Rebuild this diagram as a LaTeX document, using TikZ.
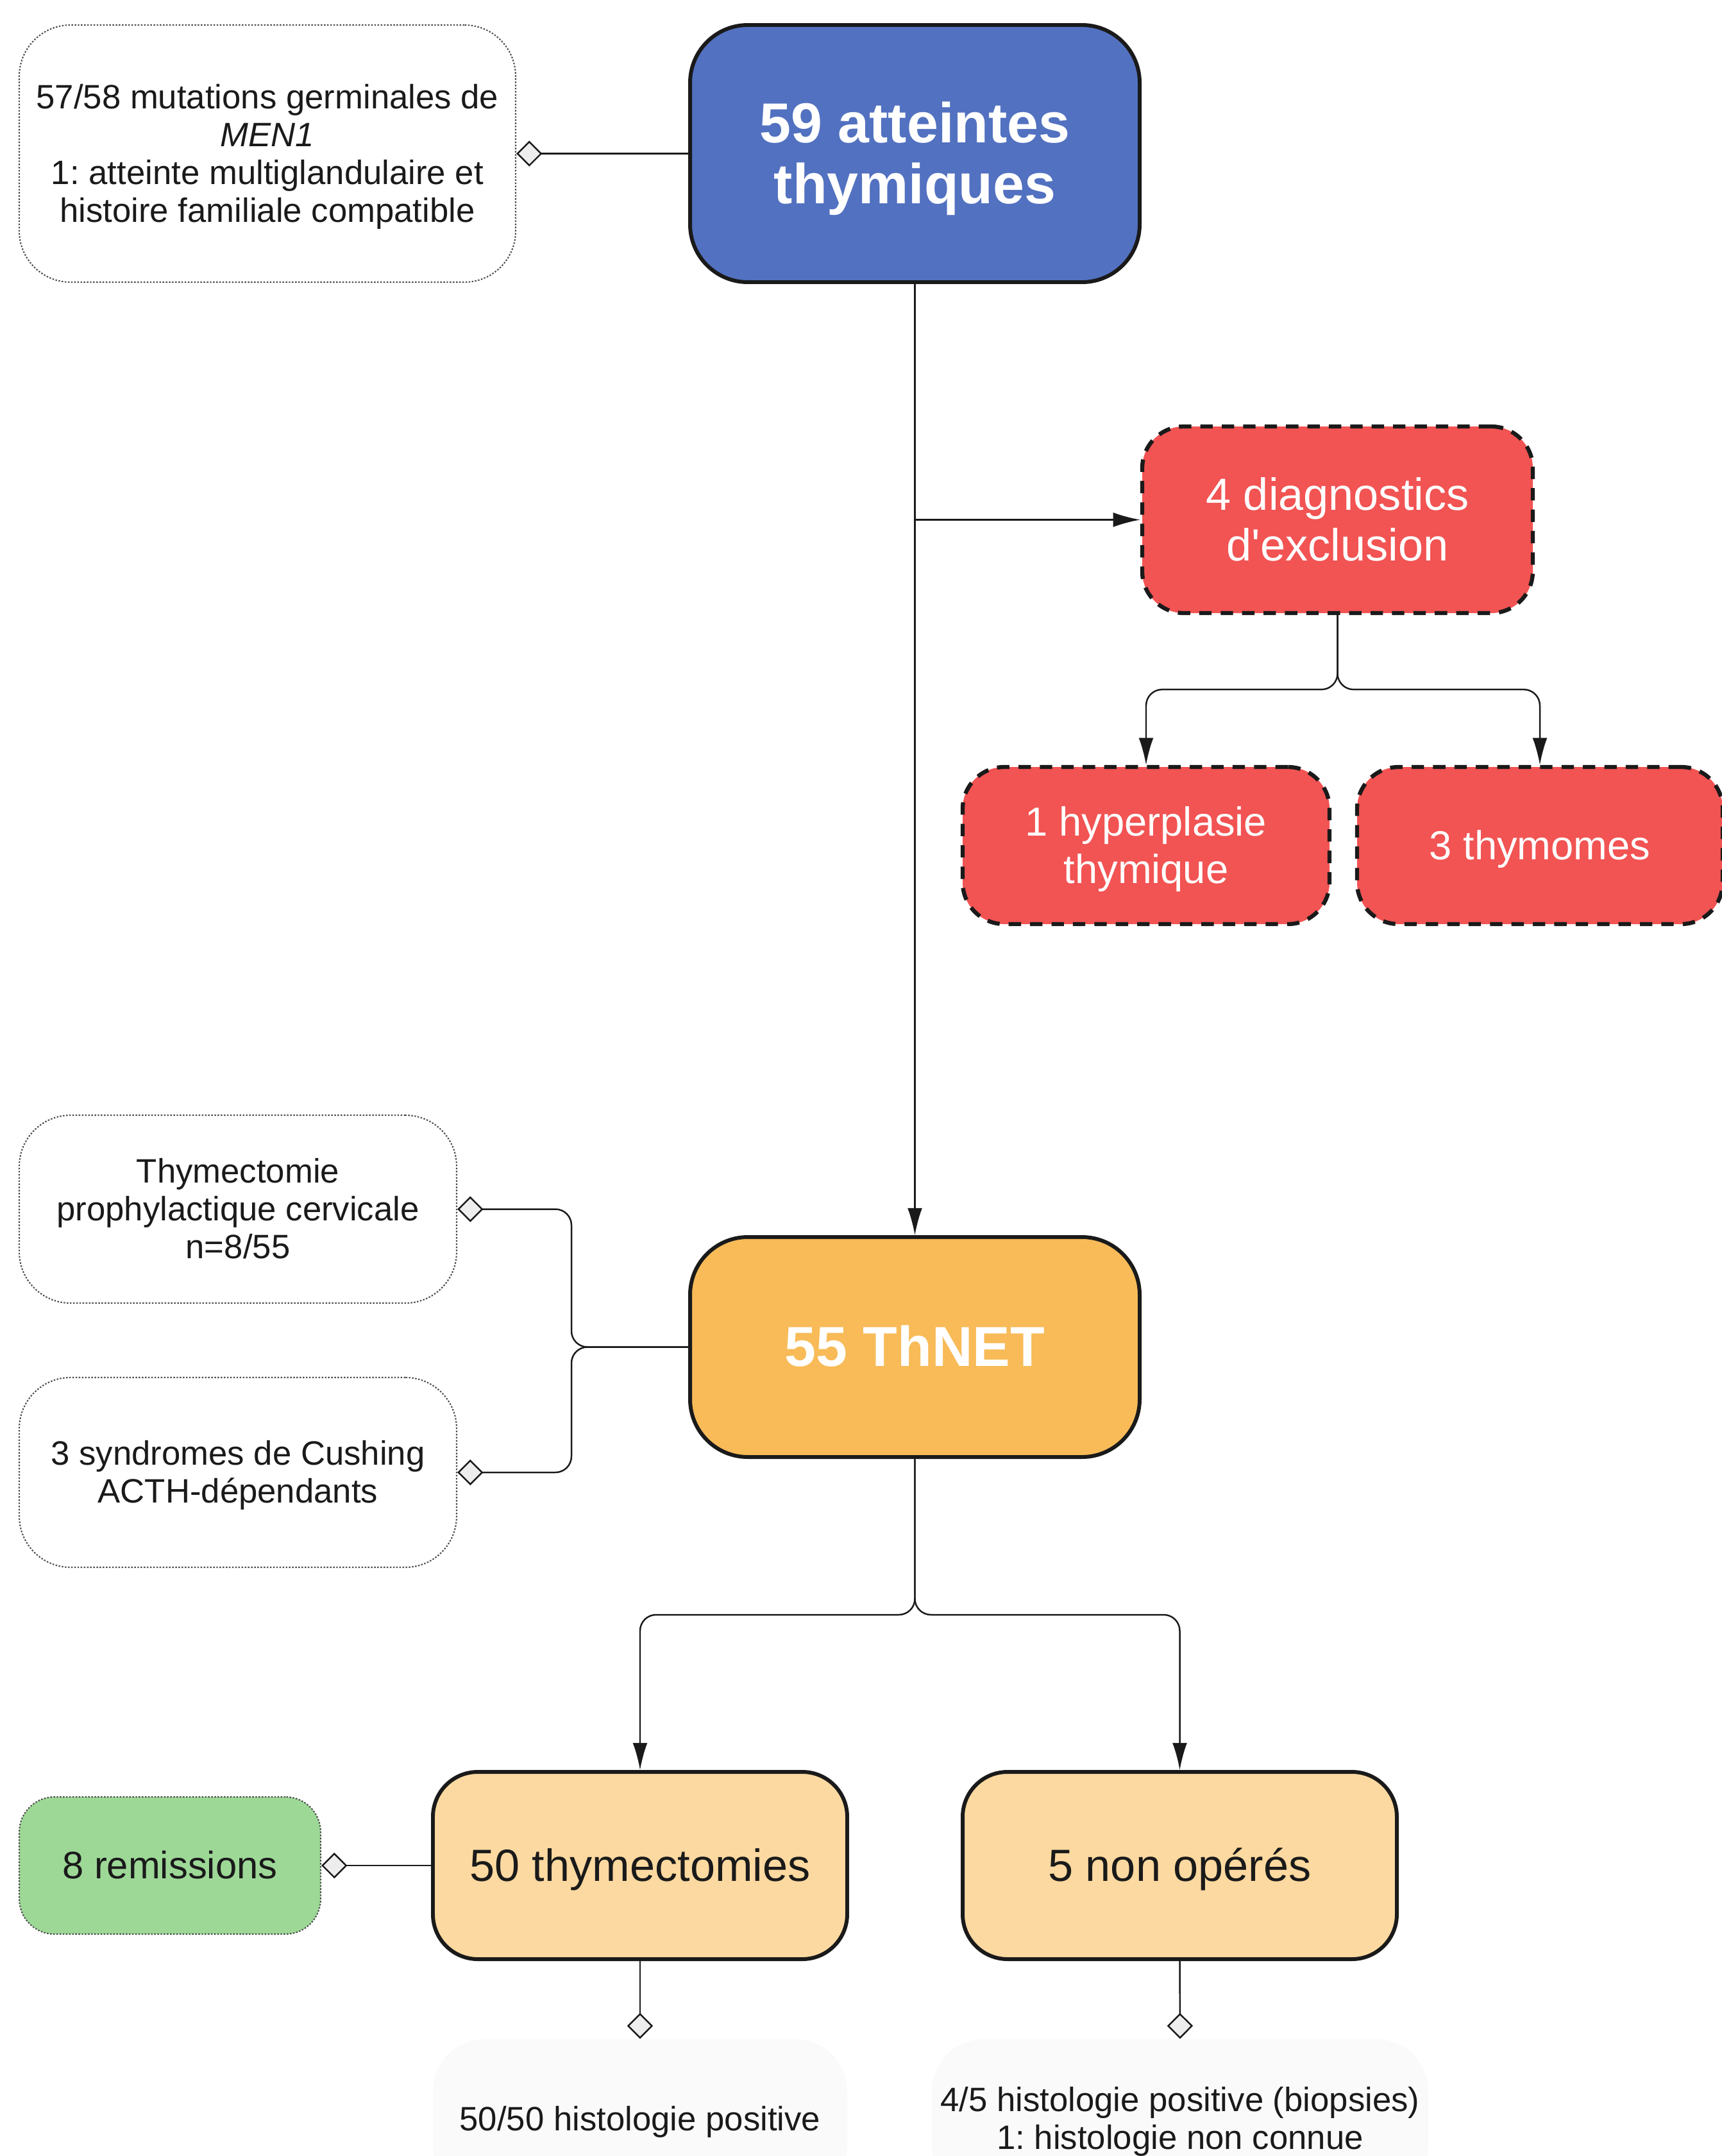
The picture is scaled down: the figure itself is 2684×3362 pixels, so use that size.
\documentclass[tikz,border=0pt]{standalone}
\usepackage{fontspec}
\setmainfont{Liberation Sans}
\frenchspacing
\usetikzlibrary{arrows.meta}
\definecolor{bleu}{HTML}{5271C0}
\definecolor{rouge}{HTML}{F25353}
\definecolor{orangefonce}{HTML}{F8BB58}
\definecolor{orangeclair}{HTML}{FCD9A0}
\definecolor{vert}{HTML}{9DD897}
\definecolor{encre}{HTML}{1A1A1A}
\newcommand\montant{\rule[-0.2535em]{0pt}{1.2em}}
\tikzset{
  texte/.style={align=center,inner sep=0pt,execute at begin node=\montant,execute at end node=\montant},
  boite/.style={texte,rectangle,rounded corners=9mm,draw=encre,line width=1.7pt},
  note/.style={texte,rectangle,rounded corners=8mm,draw=black!70,line width=0.6pt,dash pattern=on 0.7pt off 0.7pt,fill=white,text=encre,font=\fontsize{15}{16.8}\selectfont},
  exclu/.style={boite,fill=rouge,line width=1.8pt,dash pattern=on 5.5pt off 4pt,rounded corners=6.5mm,text=white,font=\fontsize{18}{21}\selectfont},
  suite/.style={boite,fill=orangeclair,rounded corners=7mm,text=encre,font=\fontsize{20}{24}\selectfont},
  histo/.style={texte,rectangle,rounded corners=8mm,fill=black!2,text=encre,font=\fontsize{15}{16.8}\selectfont},
  fleche/.style={-{Latex[length=12pt,width=6.5pt]},line width=0.7pt,draw=encre},
  losange/.style={-{Diamond[length=11.5pt,width=11.5pt,fill=black!7]},line width=0.7pt,draw=encre},
}
\begin{document}
\begin{tikzpicture}[x=0.1mm,y=-0.1mm]
\useasboundingbox (0,0) rectangle (2684,3362);
\node[note,minimum width=77.4mm,minimum height=40.1mm](men)at(417,239.5){\montant 57/58 mutations germinales de\\\textit{MEN1}\\1: atteinte multiglandulaire et\\histoire familiale compatible};
\node[boite,fill=bleu,text=white,minimum width=70.1mm,minimum height=40.1mm,font=\bfseries\fontsize{25}{27}\selectfont](atteintes)at(1426.5,239.5){\montant 59 atteintes\\thymiques};
\node[exclu,minimum width=60.9mm,minimum height=29.1mm,font=\fontsize{20}{22.5}\selectfont](diag)at(2085.5,810.5){\montant 4 diagnostics\\d\textquotesingle exclusion};
\node[exclu,minimum width=57.2mm,minimum height=24.5mm](hyper)at(1787,1318.5){\montant 1 hyperplasie\\thymique};
\node[exclu,minimum width=57mm,minimum height=24.5mm](thymomes)at(2401,1318.5){3 thymomes};
\node[boite,fill=orangefonce,text=white,minimum width=70.1mm,minimum height=34.3mm,font=\bfseries\fontsize{25}{27}\selectfont](thnet)at(1426.5,2100.5){55 ThNET};
\node[note,minimum width=68.2mm,minimum height=29.3mm](prophy)at(371,1885.5){\montant Thymectomie\\prophylactique cervicale\\n=8/55};
\node[note,minimum width=68.2mm,minimum height=29.6mm](cushing)at(371,2296){\montant 3 syndromes de Cushing\\ACTH-dépendants};
\node[suite,minimum width=64.6mm,minimum height=29.2mm](operes)at(998,2909){50 thymectomies};
\node[suite,minimum width=67.7mm,minimum height=29.2mm](nonoperes)at(1839.5,2909){5 non opérés};
\node[note,fill=vert,rounded corners=5.5mm,minimum width=47mm,minimum height=21.4mm,font=\fontsize{17}{20}\selectfont](remission)at(265,2909){8 remissions};
\node[histo,minimum width=64.6mm,minimum height=24.8mm](histoA)at(998,3304){50/50 histologie positive};
\node[histo,minimum width=77.4mm,minimum height=24.8mm](histoB)at(1840,3304){\montant 4/5 histologie positive (biopsies)\\1: histologie non connue};
\draw[losange](atteintes.west)--(men.east);
\draw[fleche](atteintes.south)--(thnet.north);
\draw[fleche](atteintes.south|-diag.west)--(diag.west);
\draw[fleche,rounded corners=2.5mm](diag.south)--++(0,116)-|(hyper.north);
\draw[fleche,rounded corners=2.5mm](diag.south)--++(0,116)-|(thymomes.north);
\draw[losange,rounded corners=2.5mm](thnet.west)--++(-182,0)|-(prophy.east);
\draw[losange,rounded corners=2.5mm](thnet.west)--++(-182,0)|-(cushing.east);
\draw[fleche,rounded corners=2.5mm](thnet.south)--++(0,243)-|(operes.north);
\draw[fleche,rounded corners=2.5mm](thnet.south)--++(0,243)-|(nonoperes.north);
\draw[losange](operes.west)--(remission.east);
\draw[losange](operes.south)--(histoA.north);
\draw[losange](nonoperes.south)--(histoB.north);
\end{tikzpicture}
\end{document}
